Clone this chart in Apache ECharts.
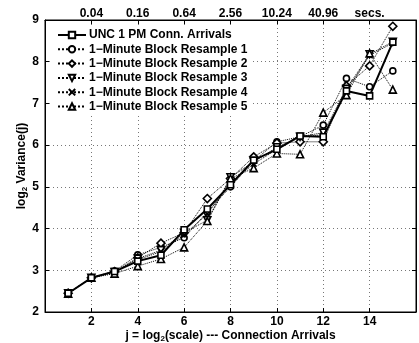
<!DOCTYPE html>
<html>
<head>
<meta charset="utf-8">
<script src="https://cdn.jsdelivr.net/npm/echarts@6/dist/echarts.min.js"></script>
<style>
	html, body { margin: 0; padding: 0; background: #fff; }
	#chart { width: 419px; height: 343px; }
</style>
</head>
<body>
<div id="chart"></div>
<script>
// scale j = 1..15
var scales = [1, 2, 3, 4, 5, 6, 7, 8, 9, 10, 11, 12, 13, 14, 15];

// top axis labels (time scale) at j = 2,4,...,14
var topTicks = [2, 4, 6, 8, 10, 12, 14];
var topLabels = ['0.04', '0.16', '0.64', '2.56', '10.24', '40.96', 'secs.'];

var seriesNames = [
	'UNC 1 PM Conn. Arrivals',
	'1\u2212Minute Block Resample 1',
	'1\u2212Minute Block Resample 2',
	'1\u2212Minute Block Resample 3',
	'1\u2212Minute Block Resample 4',
	'1\u2212Minute Block Resample 5'
];

// log2 Variance(j)
var unc = [2.45, 2.82, 2.97, 3.22, 3.36, 3.97, 4.47, 5.05, 5.64, 5.9, 6.22, 6.2, 7.3, 7.18, 8.47];
var resample1 = [2.45, 2.82, 2.98, 3.37, 3.55, 3.78, 4.4, 5.0, 5.62, 6.08, 6.2, 6.48, 7.6, 7.4, 7.78];
var resample2 = [2.45, 2.82, 2.97, 3.3, 3.65, 3.9, 4.72, 5.2, 5.72, 6.05, 6.08, 6.08, 7.42, 7.9, 8.85];
var resample3 = [2.45, 2.82, 2.96, 3.28, 3.48, 3.9, 4.2, 5.23, 5.6, 5.95, 6.2, 6.3, 7.35, 8.18, 8.48];
var resample4 = [2.45, 2.82, 2.97, 3.25, 3.45, 3.85, 4.35, 5.1, 5.55, 5.9, 6.2, 6.25, 7.3, 8.15, 8.45];
var resample5 = [2.44, 2.82, 2.92, 3.1, 3.27, 3.55, 4.18, 5.2, 5.45, 5.8, 5.78, 6.78, 7.2, 8.2, 7.33];

var allData = [unc, resample1, resample2, resample3, resample4, resample5];

var symbols = ['rect', 'circle', 'diamond', 'triangle', 'path://M0,0L10,10M10,0L0,10', 'triangle'];
var symbolRotates = [0, 0, 0, 180, 0, 0];
var symbolSizes = [6, 6, 8, 7, 5, 7];

var fontFamily = 'Liberation Sans, Arial, Helvetica, sans-serif';

function pairs(values) {
	var res = [];
	for (var i = 0; i < scales.length; i++) {
		res.push([scales[i], values[i]]);
	}
	return res;
}

var series = [];
for (var k = 0; k < allData.length; k++) {
	series.push({
		name: seriesNames[k],
		type: 'line',
		xAxisIndex: 0,
		yAxisIndex: 0,
		data: pairs(allData[k]),
		symbol: symbols[k],
		symbolSize: symbolSizes[k],
		symbolRotate: symbolRotates[k],
		showAllSymbol: true,
		animation: false,
		z: k == 0 ? 3 : 2,
		lineStyle: {
			color: '#000',
			width: k == 0 ? 2 : 1,
			type: k == 0 ? 'solid' : 'dotted'
		},
		itemStyle: {
			color: k == 4 ? 'none' : '#fff',
			borderColor: '#000',
			borderWidth: 1.6
		},
		emphasis: { disabled: true }
	});
}

var dom = document.getElementById('chart');
var myChart = echarts.init(dom, null, { renderer: 'canvas' });

var labelStyle = { color: '#000', fontFamily: fontFamily, fontWeight: 'bold', fontSize: 12 };
var gridLine = { show: true, lineStyle: { color: '#777', type: [1, 3], width: 1 } };

var option = {
	backgroundColor: '#fff',
	animation: false,
	grid: {
		left: 45, right: 3, top: 20, bottom: 31,
		outerBoundsMode: 'none',
		containLabel: false,
		show: true, borderColor: '#000', borderWidth: 1
	},
	legend: {
		orient: 'vertical',
		left: 53,
		top: 27,
		padding: [2, 4, 2, 4],
		backgroundColor: '#fff',
		itemWidth: 28,
		itemHeight: 8,
		itemGap: 2.3,
		textStyle: { color: '#000', fontFamily: fontFamily, fontWeight: 'bold', fontSize: 12, padding: [0, 0, 0, -2] },
		data: seriesNames
	},
	xAxis: [{
		type: 'value',
		min: 0, max: 16, interval: 2,
		position: 'bottom',
		name: '{t|j = log}{s|2}{t|(scale) --- Connection Arrivals}',
		nameLocation: 'middle',
		nameGap: 16,
		nameMoveOverlap: false,
		nameTextStyle: {
			rich: {
				t: { fontFamily: fontFamily, fontWeight: 'bold', fontSize: 12, color: '#000' },
				s: { fontFamily: fontFamily, fontWeight: 'bold', fontSize: 8, color: '#000', padding: [7, 0, 0, 0] }
			}
		},
		axisLine: { show: true, onZero: false, lineStyle: { color: '#000' } },
		axisTick: { inside: true, length: 4, lineStyle: { color: '#000' } },
		axisLabel: Object.assign({ showMinLabel: false, showMaxLabel: false, margin: 4 }, labelStyle),
		splitLine: gridLine
	}, {
		type: 'value',
		min: 0, max: 16, interval: 2,
		position: 'top',
		axisLine: { show: true, onZero: false, lineStyle: { color: '#000' } },
		axisTick: { inside: true, length: 4, lineStyle: { color: '#000' } },
		axisLabel: Object.assign({
			showMinLabel: false, showMaxLabel: false, margin: 0,
			formatter: function (v) {
				var idx = topTicks.indexOf(v);
				return idx >= 0 ? topLabels[idx] : '';
			}
		}, labelStyle),
		splitLine: { show: false }
	}],
	yAxis: [{
		type: 'value',
		min: 2, max: 9, interval: 1,
		name: '{t|log}{s|2}{t| Variance(j)}',
		nameLocation: 'middle',
		nameGap: 16,
		nameMoveOverlap: false,
		nameTextStyle: {
			rich: {
				t: { fontFamily: fontFamily, fontWeight: 'bold', fontSize: 12, color: '#000' },
				s: { fontFamily: fontFamily, fontWeight: 'bold', fontSize: 8, color: '#000', padding: [7, 0, 0, 0] }
			}
		},
		axisLine: { show: true, onZero: false, lineStyle: { color: '#000' } },
		axisTick: { show: true, inside: true, length: 4, lineStyle: { color: '#000' } },
		axisLabel: Object.assign({ margin: 6 }, labelStyle),
		splitLine: gridLine
	}, {
		type: 'value',
		min: 2, max: 9, interval: 1,
		position: 'right',
		axisLine: { show: true, onZero: false, lineStyle: { color: '#000' } },
		axisTick: { show: true, inside: true, length: 4, lineStyle: { color: '#000' } },
		axisLabel: { show: false },
		splitLine: { show: false }
	}],
	series: series
};

myChart.setOption(option);
</script>
</body>
</html>
